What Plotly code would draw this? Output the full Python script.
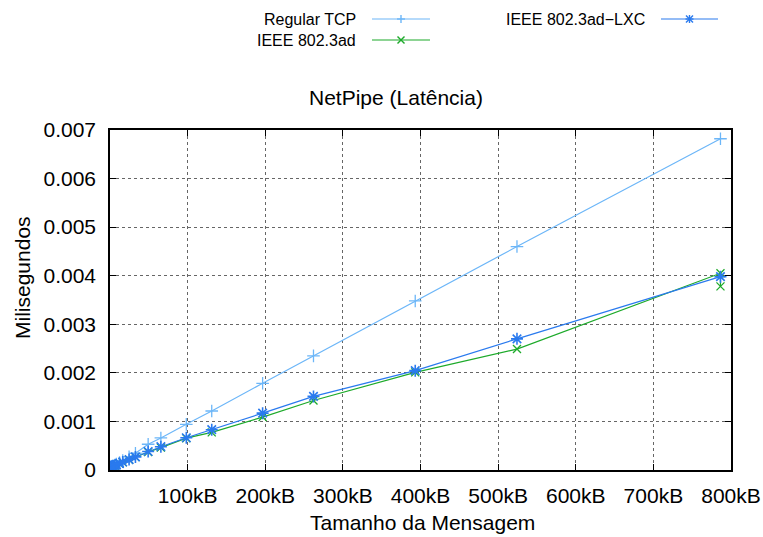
import plotly.graph_objects as go

# Message sizes (bytes)
sizes = [1, 2, 3, 4, 6, 8, 12, 16, 24, 32, 48, 64, 96, 128, 192, 256, 384, 512, 768,
         1024, 1536, 2048, 3072, 4096, 6144, 8192, 12288, 16384, 24576, 32768, 49152,
         65536, 98304, 131072, 196608, 262144, 393216, 524288, 786432]
sizes_ad = sizes + [786435]

regular_tcp = [0.000045, 0.000045, 0.000046, 0.000046, 0.000046, 0.000046, 0.000047, 0.000047,
               0.000047, 0.000048, 0.000048, 0.000049, 0.000049, 0.000050, 0.000051, 0.000052,
               0.000054, 0.000056, 0.000059, 0.000062, 0.000067, 0.000072, 0.000080, 0.000088,
               0.000104, 0.000120, 0.000155, 0.000195, 0.000270, 0.000345, 0.000530, 0.000660,
               0.000940, 0.001215, 0.001785, 0.002350, 0.003480, 0.004600, 0.006820]

ieee_ad = [0.000042, 0.000042, 0.000043, 0.000043, 0.000043, 0.000044, 0.000044, 0.000044,
           0.000045, 0.000045, 0.000046, 0.000046, 0.000047, 0.000048, 0.000049, 0.000050,
           0.000052, 0.000054, 0.000057, 0.000060, 0.000064, 0.000068, 0.000074, 0.000080,
           0.000090, 0.000100, 0.000130, 0.000160, 0.000210, 0.000265, 0.000370, 0.000460,
           0.000655, 0.000775, 0.001090, 0.001430, 0.002010, 0.002490, 0.004050, 0.003780]

ieee_lxc = [0.000043, 0.000043, 0.000044, 0.000044, 0.000044, 0.000045, 0.000045, 0.000045,
            0.000046, 0.000046, 0.000047, 0.000047, 0.000048, 0.000049, 0.000050, 0.000051,
            0.000053, 0.000055, 0.000058, 0.000061, 0.000065, 0.000069, 0.000075, 0.000082,
            0.000095, 0.000105, 0.000135, 0.000165, 0.000215, 0.000270, 0.000380, 0.000480,
            0.000665, 0.000830, 0.001170, 0.001515, 0.002045, 0.002700, 0.003980]

x_ticks = [100000, 200000, 300000, 400000, 500000, 600000, 700000, 800000]
x_labels = ["100kB", "200kB", "300kB", "400kB", "500kB", "600kB", "700kB", "800kB"]
y_ticks = [0, 0.001, 0.002, 0.003, 0.004, 0.005, 0.006, 0.007]
y_labels = ["0", "0.001", "0.002", "0.003", "0.004", "0.005", "0.006", "0.007"]

C_TCP = "#6cb6f8"
C_AD = "#1daa2a"
C_LXC = "#2a7aee"

FONT = "Liberation Sans, Arial, Helvetica, sans-serif"

fig = go.Figure()
fig.add_trace(go.Scatter(
    x=sizes, y=regular_tcp, mode="lines+markers", name="Regular TCP",
    line=dict(color=C_TCP, width=1.2),
    marker=dict(symbol="cross-thin", size=9, color=C_TCP, line=dict(color=C_TCP, width=1.3)),
))
fig.add_trace(go.Scatter(
    x=sizes_ad, y=ieee_ad, mode="lines+markers", name="IEEE 802.3ad",
    line=dict(color=C_AD, width=1.2),
    marker=dict(symbol="x-thin", size=8, color=C_AD, line=dict(color=C_AD, width=1.3)),
))
fig.add_trace(go.Scatter(
    x=sizes, y=ieee_lxc, mode="lines+markers", name="IEEE 802.3ad\u2212LXC",
    line=dict(color=C_LXC, width=1.2),
    marker=dict(symbol="asterisk", size=10, color=C_LXC, line=dict(color=C_LXC, width=1.6)),
))

W, H = 763, 537
L, R, T, B = 110, 731, 130, 470
pw, ph = R - L, B - T

def px(xp):
    return (xp - L) / pw

def py(yp):
    return (B - yp) / ph

shapes = []
annotations = []

legend_items = [
    ("Regular TCP", C_TCP, 358, 19, 372, 430, "plus"),
    ("IEEE 802.3ad", C_AD, 358, 40, 372, 430, "x"),
    ("IEEE 802.3ad\u2212LXC", C_LXC, 647, 19, 661, 718, "star"),
]
for text, col, tx, ty, lx0, lx1, sym in legend_items:
    annotations.append(dict(
        x=px(tx), y=py(ty), xref="paper", yref="paper", text=text, showarrow=False,
        xanchor="right", yanchor="middle", font=dict(family=FONT, size=16, color="#000")))
    shapes.append(dict(type="line", xref="paper", yref="paper",
                       x0=px(lx0), x1=px(lx1), y0=py(ty), y1=py(ty),
                       line=dict(color=col, width=1.2)))
    cx = px((lx0 + lx1) / 2)
    cy = py(ty)
    segs = []
    if sym in ("plus", "star"):
        segs += [(-4, 0, 4, 0), (0, -4, 0, 4)]
    if sym in ("x", "star"):
        segs += [(-3.5, -3.5, 3.5, 3.5), (-3.5, 3.5, 3.5, -3.5)]
    for a, b, c, d in segs:
        shapes.append(dict(type="line", xref="paper", yref="paper",
                           xsizemode="pixel", ysizemode="pixel", xanchor=cx, yanchor=cy,
                           x0=a, y0=b, x1=c, y1=d, line=dict(color=col, width=1.4)))

annotations.append(dict(
    x=px(22), y=py(278), xref="paper", yref="paper", text="Milisegundos", showarrow=False,
    textangle=-90, xanchor="center", yanchor="middle", font=dict(family=FONT, size=21, color="#000")))
annotations.append(dict(
    x=px(422), y=py(522), xref="paper", yref="paper", text="Tamanho da Mensagem", showarrow=False,
    xanchor="center", yanchor="middle", font=dict(family=FONT, size=21, color="#000")))
annotations.append(dict(
    x=px(396), y=py(98), xref="paper", yref="paper", text="NetPipe (Lat\u00eancia)", showarrow=False,
    xanchor="center", yanchor="middle", font=dict(family=FONT, size=21, color="#000")))

fig.update_layout(
    width=W, height=H,
    margin=dict(l=L, r=W - R, t=T, b=H - B, pad=0, autoexpand=False),
    paper_bgcolor="white", plot_bgcolor="white",
    showlegend=False,
    font=dict(family=FONT, size=21, color="#000"),
    shapes=shapes, annotations=annotations,
)
fig.update_xaxes(
    range=[0, 800000], tickvals=x_ticks, ticktext=x_labels, automargin=False,
    showline=True, linecolor="#000", linewidth=1.5, mirror="ticks",
    ticks="inside", ticklen=6, tickcolor="#000", tickwidth=1,
    showgrid=True, gridcolor="#666", griddash="dot", gridwidth=1,
    zeroline=False, ticklabelstandoff=6,
    tickfont=dict(family=FONT, size=21, color="#000"),
)
fig.update_yaxes(
    range=[0, 0.007], tickvals=y_ticks, ticktext=y_labels, automargin=False,
    showline=True, linecolor="#000", linewidth=1.5, mirror="ticks",
    ticks="inside", ticklen=6, tickcolor="#000", tickwidth=1,
    showgrid=True, gridcolor="#666", griddash="dot", gridwidth=1,
    zeroline=False, ticklabelstandoff=8,
    tickfont=dict(family=FONT, size=21, color="#000"),
)

fig.write_html(
    "out.html",
    config={"displayModeBar": False},
    post_script="document.body.style.margin='0';document.body.style.overflow='hidden';",
)
